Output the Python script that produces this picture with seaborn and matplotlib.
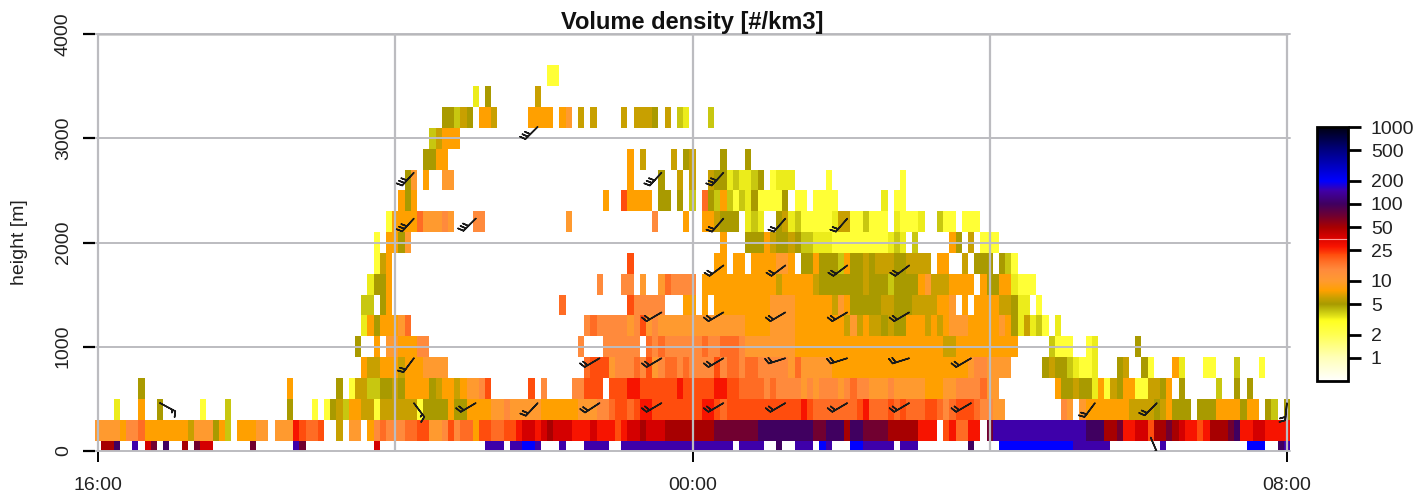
import numpy as np
import pandas as pd
import seaborn as sns
import matplotlib
matplotlib.use("Agg")
import matplotlib.pyplot as plt
from matplotlib.colors import LinearSegmentedColormap, LogNorm

levels = dict(y=2.5, z=3.3, l=4.0, o=5.0, g=6.0, n=7.5, m=10.0, s=14.0, t=18.0, u=22.0,
              r=28.0, R=38.0, d=50.0, D=70.0, p=100.0, P=150.0, b=200.0)

# One string per height bin: 16 groups of 12 five-minute columns, plus the last column
h0000 = ".ddp..P.RD.p ..d.DRR..... .D......PD.. .........R.. ............ ...PPP.PPbbP ...P...PPPP. .PPPPPPPPPPP PPPPPPP.PPPP ..p..PPP.bP. ..bbPPPPP.PP P........p.. ..bbbbbbbbbb bbPPPPPP.... ....P....... ......bbb..p P"
h0200 = "mmmmnsstnnnn nnngmmmonl.n nnmm.mmmrutt u..g.mm.nsts ssttuummsust tnuuttuurRRr RdRRRrrrRrrr urRRdRRRdddd ddddDDDDDDDp ppppppppDDpp pdppDDDDdddd drrr.urttrr. DPPPPPPPPPPP PPPPpppddDrr RRuddDdRrrur dddDprrRRrrr r"
h0400 = "...z...n..o. .....y...l.. .......o...y .yoglnnggygg ggggyoooonoo nnnnmmsmmmmm nnnnnnmmmsst uuturruuuuuu uurrutuuuuuu uuuuuurutttt ttturtttutut ttuutstuuuts smm......... sm.mnnnnnnng gggognooo.oo onnnnonn.ol. o"
h0600 = ".......o.... ............ .......n.... ...o.ygglloo gonnnnognngn mmsu......u. s....ssuuu.u uurruuuuuuru uuuurruutttt stssssmsmsss mstssmmmsmmm mmnnnmmsssst mm.........n oogooznygonn yyggon.o.... .l..o.o..... ."
h0800 = "............ ............ ............ .......nggnn ngnnnmmmm... ............ .......tuuum ssstsumsttst ssssusttstts ssssmtmmmmmn nnnnnnnnnnnn nnnnnnnnnmss mmmm.....ogo olzyyz...og. .oy...nz...y y...l...y... ."
h1000 = "............ ............ ............ ......o..n.m mnnnss...... ............ ......s...ss ssss.tstssss sstsstttsmmm mmmmmnnnnnnn nnnnnnnnnnnn nnnnnggnnnnn nnnnn.....ly yy..yz...... o........... ............ ."
h1200 = "............ ............ ............ .......znonn nmt......... ............ .......stsss ssmsumsmmmmm mmmmmmmmmnnn nmmmmnnnnnnn ngmgnggogoon nngngnmmmnnn nnmnozgzly.z ............ ............ ............ ."
h1400 = "............ ............ ............ .......ll.on ............ ............ ...t........ ..usssss...n n.n.nnnnnnnn nmmmmnnnnnng mnoooooggooo ggggnnm.n.nn nnggozz.y... ............ ............ ............ ."
h1600 = "............ ............ ............ ........zoon ............ ............ .........s.. .ss.m..mtsss s.nnnnnnnnnn nngnnnnngooo oooogooolooo onmgggnnnn.n oonnzyyy.... ............ ............ ............ ."
h1800 = "............ ............ ............ .........ygn ............ ............ ............ ..u......... ....nn.nn.nn nnmmn.oonooo lnoogogggoog ggg.nn..g.oo o.oly....... ............ ............ ............ ."
h2000 = "............ ............ ............ .........y.n nom......... ............ ............ ............ .....n...ooo ngoogollzzzy yyyyyyyyzlz. l.....no.g.y yy.......... ............ ............ ............ ."
h2200 = "............ ............ ............ ...........y nnnntmmmsm.. .ss......... ....m....... ......s....n ..nngooo.zlz ..ogzlyyyyyz ggyylyyy.zyy yz..lyy.yyy. ............ ............ ............ ............ ."
h2400 = "............ ............ ............ ............ .non........ ............ ..........n. .unnnn.oo.o. l.tolnlylzoy yyyo.yy.yyyy .......z.yy. ............ ............ ............ ............ ............ ."
h2600 = "............ ............ ............ ............ ..om.n..mm.. ............ ............ ..n....o..g. g..goozlzzlo .yzzz.....y. ..........y. ............ ............ ............ ............ ............ ."
h2800 = "............ ............ ............ ............ .....oonn... ............ ............ ..n.g....g.o g....o...o.. ............ ............ ............ ............ ............ ............ ............ ."
h3000 = "............ ............ ............ ............ ......lgnnn. ............ ............ ............ ............ ............ ............ ............ ............ ............ ............ ."
h3200 = "............ ............ ............ ............ ........oolg o.nng.....nn nn.nm.g.g... .g.gggo.g.lz ...l........ ............ ............ ............ ............ ............ ............ ............ ."
h3400 = "............ ............ ............ ............ ............ .z.o.......g ............ ............ ............ ............ ............ ............ ............ ............ ............ ............ ."
h3600 = "............ ............ ............ ............ ............ ............ .yy......... ............ ............ ............ ............ ............ ............ ............ ............ ............ ."
h3800 = ""

height_rows = [h0000, h0200, h0400, h0600, h0800, h1000, h1200, h1400, h1600, h1800,
               h2000, h2200, h2400, h2600, h2800, h3000, h3200, h3400, h3600, h3800]
heights = list(range(0, 4000, 200))
n_cols = 193

# Wind barbs: column, height [m], u, v
barb_col = [10, 51, 61, 71, 81, 91, 101, 111, 121, 131, 141, 161, 171, 170, 192,
            51, 81, 91, 101, 111, 121, 131, 141,
            91, 101, 111, 121, 131,
            101, 111, 121, 131,
            51, 61, 101, 111, 121,
            51, 91, 101,
            71]
barb_h = [460, 460, 460, 460, 460, 460, 460, 460, 460, 460, 460, 460, 460, 130, 460,
          890, 890, 890, 890, 890, 890, 890, 890,
          1330, 1330, 1330, 1330, 1330,
          1780, 1780, 1780, 1780,
          2230, 2230, 2230, 2230, 2230,
          2670, 2670, 2670,
          3110]
barb_u = [-13, -9, 17, 14, 17, 17, 17, 17, 17, 17, 17, 12, 14, -6, 2,
          12, 17, 17, 17, 19, 19, 19, 17,
          17, 17, 17, 17, 17,
          16, 16, 16, 16,
          20, 21, 13, 13, 13,
          20, 20, 20,
          21]
barb_v = [7, 12, 10, 15, 11, 10, 10, 10, 10, 10, 10, 16, 14, 14, 20,
          16, 10, 10, 10, 6, 6, 6, 10,
          10, 10, 10, 10, 10,
          12, 12, 12, 12,
          22, 21, 15, 15, 15,
          22, 22, 22,
          21]

cbar_ticks = [1, 2, 5, 10, 25, 50, 100, 200, 500, 1000]
x_major = ["16:00", "00:00", "08:00"]
y_labels = ["0", "1000", "2000", "3000", "4000"]

font = "Liberation Sans"
sns.set_theme(style="white")
plt.rcParams["font.family"] = [font, "DejaVu Sans"]

rows = []
for r in height_rows:
    cells = r.replace(" ", "").ljust(n_cols, ".")[:n_cols]
    rows.append([levels.get(c, np.nan) for c in cells])
df = pd.DataFrame(rows, index=heights, columns=range(n_cols))

stops = [(0.5, "#ffffff"), (1, "#ffffb8"), (2, "#ffff50"), (3, "#ffff20"), (4, "#c8c810"),
         (5, "#a89a00"), (6, "#c8a000"), (7.5, "#ffa000"), (10, "#ff9a30"), (14, "#ff8a3c"),
         (18, "#ff6c24"), (22, "#ff4c0c"), (28, "#f81400"), (38, "#d40000"), (50, "#a80000"),
         (70, "#700030"), (100, "#400060"), (150, "#4000a8"), (200, "#0000ff"),
         (500, "#000080"), (1000, "#000010")]
lo, hi = np.log10(0.5), np.log10(1000)
cmap = LinearSegmentedColormap.from_list(
    "vid", [((np.log10(v) - lo) / (hi - lo), c) for v, c in stops], N=512)
cmap.set_bad((1, 1, 1, 0))

W, H = 1418, 500
fig = plt.figure(figsize=(W / 100, H / 100), dpi=100, facecolor="white")
ax = fig.add_axes([95 / W, 1 - 451 / H, (1290 - 95) / W, (451 - 34) / H])
cax = fig.add_axes([1317 / W, 1 - 381 / H, 31 / W, 254 / H])

sns.heatmap(df, ax=ax, cbar_ax=cax, cmap=cmap, norm=LogNorm(0.5, 1000),
            xticklabels=False, yticklabels=False, linewidths=0, rasterized=True)
ax.set_xlim(0, n_cols)
ax.set_ylim(0.5, 20.5)
ax.set_xlabel("")
ax.set_ylabel("height [m]", fontsize=14, color="#222222", labelpad=0)
ax.yaxis.set_label_coords((28 - 95) / (1290 - 95), 0.5)

ax.barbs(np.array(barb_col) + 0.5, np.array(barb_h) / 200 + 0.5, barb_u, barb_v,
         length=5.0, linewidth=1.1, color="#1a1a1a", pivot="tip", zorder=5,
         sizes=dict(height=0.32, spacing=0.2), barb_increments=dict(half=5, full=10, flag=50))

ax.set_xticks([0.5, 96.5, 192.5], labels=x_major, fontsize=14, color="#222222")
ax.set_xticks([48.5, 144.5], minor=True)
ax.set_yticks([0.5, 5.5, 10.5, 15.5, 20.5], labels=y_labels, fontsize=14, color="#222222",
              rotation=90, va="center")
ax.tick_params(axis="x", which="major", length=8, width=1.4, color="black", pad=11, bottom=True)
ax.tick_params(axis="x", which="minor", length=0)
ax.tick_params(axis="y", length=8.6, width=1.6, color="black", pad=8, left=True)
ax.grid(True, which="both", axis="x", color="#bcbcc0", lw=1.6, zorder=3)
ax.grid(True, which="major", axis="y", color="#bcbcc0", lw=1.4, zorder=3)
ax.set_axisbelow(False)
for line in ax.get_xgridlines() + ax.get_ygridlines():
    line.set_clip_on(False)
for s in ax.spines.values():
    s.set_visible(False)
ax.spines["top"].set_visible(True)
ax.spines["top"].set_bounds(0.5, 192.5)
ax.spines["top"].set_color("#222222")
ax.spines["top"].set_linewidth(1.0)

ax.text(0.5, 1.0, "Volume density [#/km3]", transform=ax.transAxes, ha="center", va="bottom",
        fontsize=17, fontweight="bold", color="#111111")

cb = ax.collections[0].colorbar
cb.set_ticks(cbar_ticks, labels=[str(t) for t in cbar_ticks])
cb.ax.minorticks_off()
cb.ax.tick_params(length=9, width=2, color="black", labelsize=14, pad=7.5, labelcolor="#222222", right=True)
cb.outline.set_visible(True)
cb.outline.set_edgecolor("black")
cb.outline.set_linewidth(2)
cb.ax.axhline(35, color="#ff9a9a", lw=0.8)

fig.savefig("out.png", dpi=100, facecolor="white")
